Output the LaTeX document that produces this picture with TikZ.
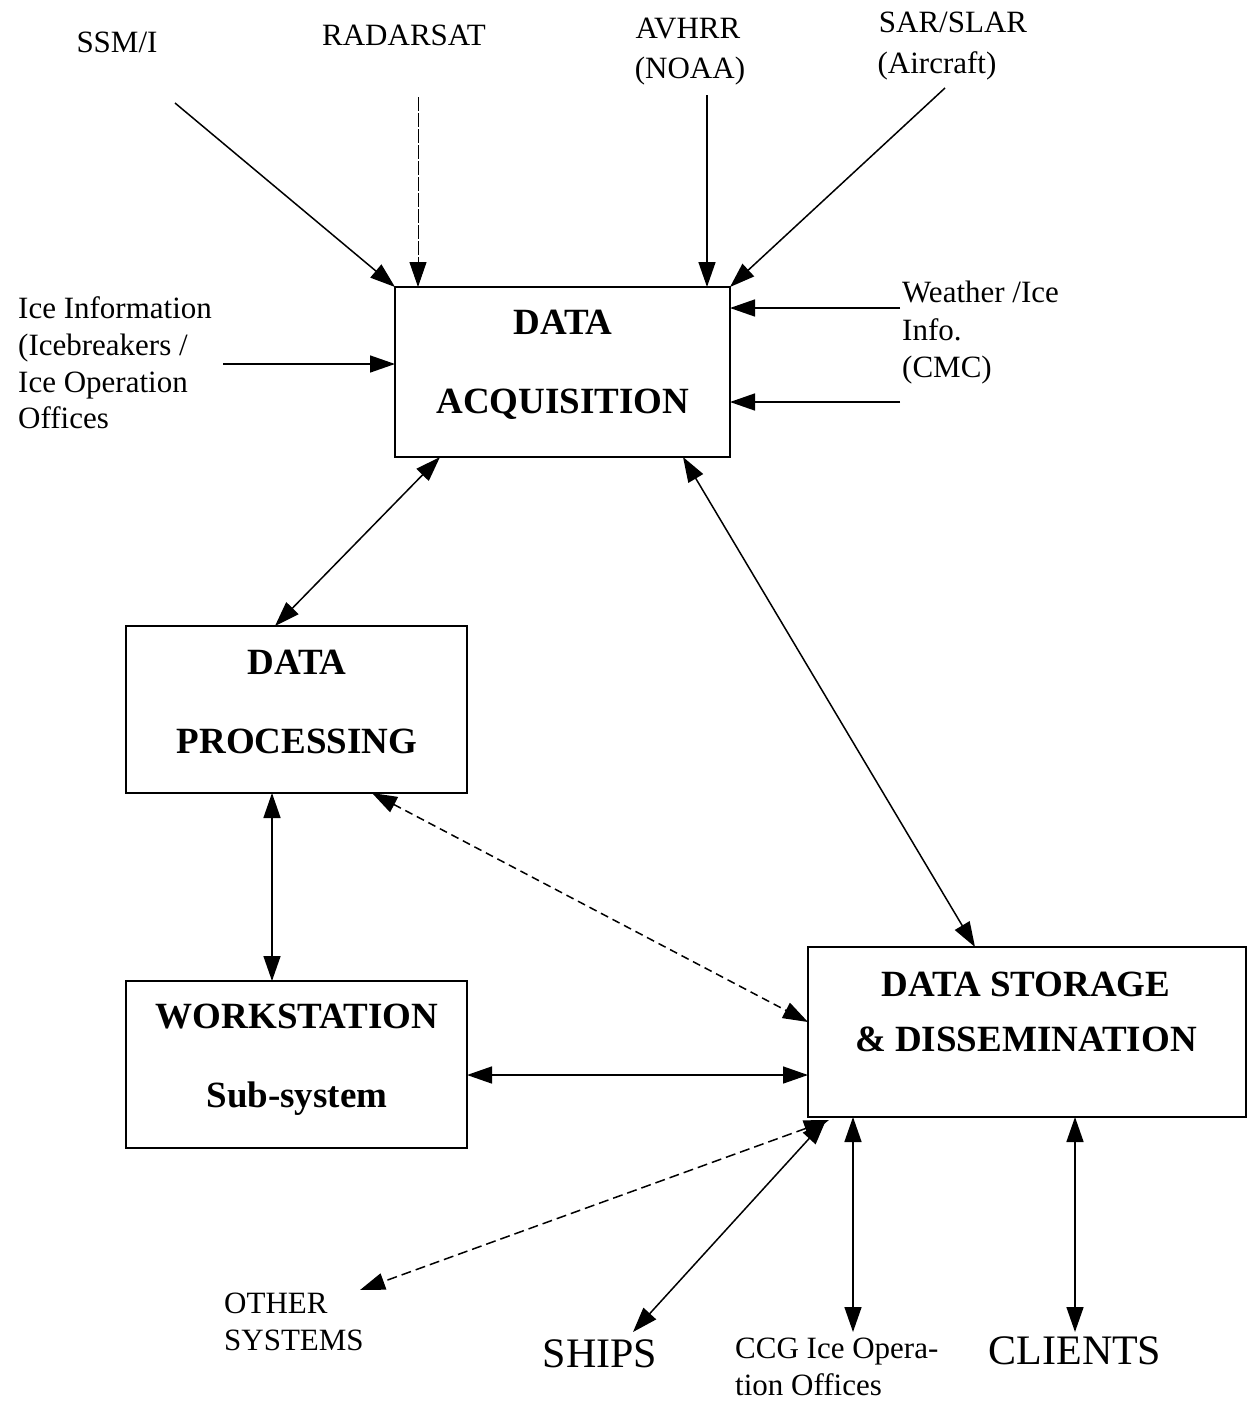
\documentclass[tikz,border=0pt]{standalone}
\usepackage{fontspec}
\setmainfont{Liberation Serif}
\usetikzlibrary{arrows.meta,calc}
\begin{document}
\begin{tikzpicture}[x=1pt,y=-1pt,
  box/.style={draw,line width=2pt,inner sep=0pt,outer sep=0pt},
  bt/.style={font=\fontsize{37}{44}\selectfont\bfseries,inner sep=0pt,anchor=base},
  lbl/.style={font=\fontsize{31}{37}\selectfont,inner sep=0pt,anchor=base},
  lbll/.style={lbl,anchor=base west},
  big/.style={font=\fontsize{42}{48}\selectfont,inner sep=0pt,anchor=base},
  tip/.tip={Triangle[length=25pt,width=17pt]},
  arr/.style={line width=1.5pt,-tip},
  darr/.style={line width=1.5pt,tip-tip},
  dsh/.style={dash pattern=on 8pt off 5pt}]
\useasboundingbox (0,0) rectangle (1249,1406);

% boxes
\node[box,minimum width=335pt,minimum height=170pt] (acq) at (562.5,372) {};
\node[box,minimum width=341pt,minimum height=167pt] (proc) at (296.5,709.5) {};
\node[box,minimum width=341pt,minimum height=167pt] (work) at (296.5,1064.5) {};
\node[box,minimum width=438pt,minimum height=170pt] (stor) at (1027,1032) {};

% box texts
\node[bt] (acqa) at (563,334) {DATA};
\node[bt] (acqb) at (563,413) {ACQUISITION};
\node[bt] (proca) at (297,674) {DATA};
\node[bt] (procb) at (297,753) {PROCESSING};
\node[bt] (worka) at (297,1028) {WORKSTATION};
\node[bt] (workb) at (297,1107) {Sub-system};
\node[bt] (stora) at (1026,996) {DATA STORAGE};
\node[bt] (storb) at (1026,1051) {\& DISSEMINATION};

% source labels
\node[lbl] (ssmi) at (117,52) {SSM/I};
\node[lbl] (rad) at (404,45) {RADARSAT};
\node[lbl] (avh1) at (688,38) {AVHRR};
\node[lbl] (avh2) at (690,78) {(NOAA)};
\node[lbl] (sar1) at (953,32) {SAR/SLAR};
\node[lbl] (sar2) at (937,73) {(Aircraft)};
\node[lbll] (ice1) at (18,318) {Ice Information};
\node[lbll] (ice2) at (18,355) {(Icebreakers /};
\node[lbll] (ice3) at (18,392) {Ice Operation};
\node[lbll] (ice4) at (18,428) {Offices};
\node[lbll] (wea1) at (902,302) {Weather /Ice};
\node[lbll] (wea2) at (902,340) {Info.};
\node[lbll] (wea3) at (902,377) {(CMC)};

% destination labels
\node[lbll] (oth1) at (224,1313) {OTHER};
\node[lbll] (oth2) at (224,1350) {SYSTEMS};
\node[big] (ships) at (600,1367) {SHIPS};
\node[lbll] (ccg1) at (735,1358) {CCG Ice Opera-};
\node[lbll] (ccg2) at (735,1395) {tion Offices};
\node[big] (cli) at (1075,1364) {CLIENTS};

% input connectors
\coordinate (s1) at (175,103);
\coordinate (s2) at (418,97);
\coordinate (s3) at (707,95);
\coordinate (s4) at (945,88);
\coordinate (s5) at (223,364);
\coordinate (s6) at (900,308);
\coordinate (s7) at (900,402);
\draw[arr] (s1) -- (acq.north west);
\draw[arr,line width=1pt,dash pattern=on 14pt off 2pt] (s2) -- (s2 |- acq.north);
\draw[arr] (s3) -- (s3 |- acq.north);
\draw[arr] (s4) -- (acq.north east);
\draw[arr] (s5) -- (s5 -| acq.west);
\draw[arr] (s6) -- (s6 -| acq.east);
\draw[arr] (s7) -- (s7 -| acq.east);

% internal connectors
\draw[darr] ($(acq.south west)+(45,0)$) -- ($(proc.north west)+(149,0)$);
\draw[darr] ($(acq.south west)+(288,0)$) -- ($(stor.north west)+(167,0)$);
\draw[darr,dsh] ($(proc.south west)+(246,0)$) -- ($(stor.north west)+(0,75)$);
\draw[darr] ($(proc.south west)+(146,0)$) -- ($(work.north west)+(146,0)$);
\coordinate (h) at (0,1075);
\draw[darr] (h -| work.east) -- (h -| stor.west);

% output connectors
\coordinate (t1) at (360,1290);
\coordinate (t2) at (633,1332);
\coordinate (t3) at (853,1332);
\coordinate (t4) at (1075,1332);
\draw[darr,dash pattern=on 10pt off 5pt] ($(stor.south west)+(21,3)$) -- (t1);
\draw[darr] ($(stor.south west)+(18,3)$) -- (t2);
\draw[darr] (t3 |- stor.south) -- (t3);
\draw[darr] (t4 |- stor.south) -- (t4);
\end{tikzpicture}
\end{document}
